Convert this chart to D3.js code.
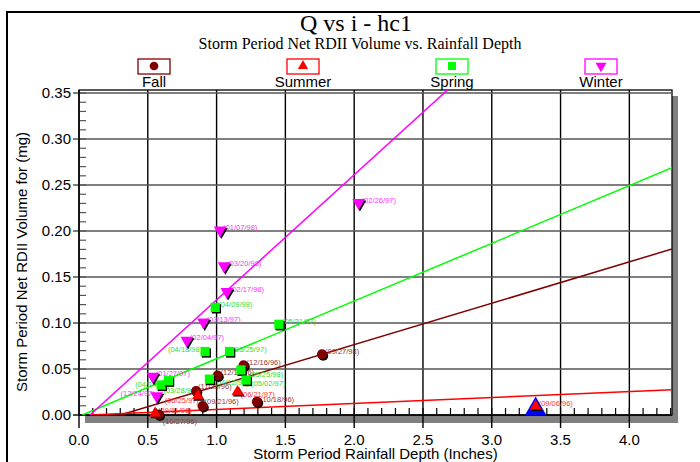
<!DOCTYPE html>
<html>
<head>
<meta charset="utf-8">
<script src="https://cdn.jsdelivr.net/npm/d3@7"></script>
<style>
body { margin: 0; background: #fff; }
</style>
</head>
<body>
<div id="chart"></div>
<script>
// seasons and their points (inches of rain, mg of RDII)
var seasons = ["Fall", "Summer", "Spring", "Winter"];

var fallX = [1.766, 1.196, 1.007, 0.851, 0.898, 1.293, 0.58];
var fallY = [0.066, 0.054, 0.043, 0.026, 0.0098, 0.0145, 0.0005];
var fallDates = ["(09/27/98)", "(12/16/96)", "(12/11/96)", "(11/25/96)", "(09/21/96)", "(10/18/96)", "(10/27/96)"];

var summerX = [3.319, 1.152, 0.864, 0.553];
var summerY = [0.0098, 0.0253, 0.0207, 0.0018];
var summerDates = ["(09/06/96)", "(06/21/97)", "(06/25/97)", "(09/11/96)"];

var springX = [0.990, 1.453, 0.917, 1.094, 1.177, 0.948, 1.215, 0.597, 0.650];
var springY = [0.117, 0.0986, 0.069, 0.069, 0.049, 0.039, 0.038, 0.0326, 0.0373];
var springDates = ["(04/09/98)", "(05/31/97)", "(04/18/98)", "(05/25/97)", "(05/25/98)", "(04/12/97)", "(05/02/97)", "(04/14/97)", "(03/28/98)"];

var winterX = [2.033, 1.026, 1.055, 1.075, 0.905, 0.784, 0.536, 0.565];
var winterY = [0.2308, 0.201, 0.162, 0.134, 0.101, 0.081, 0.042, 0.0207];
var winterDates = ["(02/26/97)", "(01/07/98)", "(03/20/98)", "(02/17/98)", "(03/13/97)", "(02/04/97)", "(01/27/97)", "(12/24/97)"];

// fitted lines: y = slope * x + intercept
var fitSlope = [0.045, 0.0065, 0.0627, 0.136];
var fitIntercept = [-0.0135, -0.0005, -0.0015, -0.0109];

var xTicks = [0.0, 0.5, 1.0, 1.5, 2.0, 2.5, 3.0, 3.5, 4.0];
var yTicks = [0.00, 0.05, 0.10, 0.15, 0.20, 0.25, 0.30, 0.35];

var colors = ["#800000", "#ff0000", "#00ff00", "#ff00ff"];
var textColors = ["#9b3333", "#ff3333", "#33dd33", "#ff33ff"];
var symbols = [d3.symbolCircle, d3.symbolTriangle, d3.symbolSquare, d3.symbolTriangle];
var symSizes = [80, 60, 85, 70];
var rotations = [0, 0, 0, 180];

var series = [
    {x: fallX, y: fallY, d: fallDates},
    {x: summerX, y: summerY, d: summerDates},
    {x: springX, y: springY, d: springDates},
    {x: winterX, y: winterY, d: winterDates}
];

var W = 700, H = 462;
var svg = d3.select("#chart").append("svg").attr("width", W).attr("height", H);

var pLeft = 79, pRight = 672, pTop = 90, pBottom = 415;
var x = d3.scaleLinear().domain([0, 4.31]).range([pLeft, pRight]);
var y = d3.scaleLinear().domain([0, 0.3533]).range([pBottom, pTop]);

// outer frame
svg.append("rect").attr("x", 7).attr("y", 12).attr("width", 720).attr("height", 480)
    .attr("fill", "none").attr("stroke", "#000").attr("stroke-width", 2);

// titles
svg.append("text").attr("x", 356).attr("y", 31).attr("text-anchor", "middle")
    .style("font", "24px 'Liberation Serif', 'Times New Roman', serif").text("Q vs i - hc1");
svg.append("text").attr("x", 360).attr("y", 49).attr("text-anchor", "middle")
    .style("font", "16px 'Liberation Serif', 'Times New Roman', serif")
    .text("Storm Period Net RDII Volume vs. Rainfall Depth");

// legend
var legendX = [154, 303, 452, 601];
var legend = svg.selectAll(".legend").data(seasons).enter().append("g")
    .attr("class", "legend")
    .attr("transform", function(d, i) { return "translate(" + legendX[i] + ",66)"; });
legend.append("rect").attr("x", -16).attr("y", -7).attr("width", 32).attr("height", 15)
    .attr("fill", "#fff").attr("stroke", function(d, i) { return colors[i]; }).attr("stroke-width", 1.3);
legend.append("path")
    .attr("d", function(d, i) { return d3.symbol().type(symbols[i]).size(symSizes[i] * 0.75)(); })
    .attr("transform", function(d, i) { return "rotate(" + rotations[i] + ")"; })
    .attr("fill", function(d, i) { return colors[i]; });
legend.append("text").attr("y", 21).attr("text-anchor", "middle")
    .style("font", "15px 'Liberation Sans', Arial, sans-serif").text(function(d) { return d; });

// shadow of plot area
svg.append("rect").attr("x", pLeft + 6).attr("y", pTop + 6).attr("width", pRight - pLeft).attr("height", pBottom - pTop + 2)
    .attr("fill", "#808080");
svg.append("rect").attr("x", pLeft).attr("y", pTop).attr("width", pRight - pLeft).attr("height", pBottom - pTop)
    .attr("fill", "#fff").attr("stroke", "#000").attr("stroke-width", 1.3);

var g = svg.append("g");

// grid
g.selectAll(".vgrid").data(xTicks.slice(1)).enter().append("line")
    .attr("x1", function(d) { return x(d); }).attr("x2", function(d) { return x(d); })
    .attr("y1", pTop).attr("y2", pBottom + 13)
    .attr("stroke", "#000").attr("stroke-width", 1.4);
g.selectAll(".hgrid").data(yTicks.slice(1)).enter().append("line")
    .attr("x1", pLeft - 6).attr("x2", pRight)
    .attr("y1", function(d) { return y(d); }).attr("y2", function(d) { return y(d); })
    .attr("stroke", "#555").attr("stroke-width", 1.5);

// minor ticks, inside the plot
var minorX = d3.range(1, 44).map(function(i) { return i / 10; });
var minorY = d3.range(1, 36).map(function(i) { return i / 100; });
g.selectAll(".mx").data(minorX).enter().append("line")
    .attr("x1", function(d) { return x(d); }).attr("x2", function(d) { return x(d); })
    .attr("y1", pBottom).attr("y2", pBottom - 7).attr("stroke", "#000").attr("stroke-width", 1.2);
g.selectAll(".my").data(minorY).enter().append("line")
    .attr("x1", pLeft).attr("x2", pLeft + 7)
    .attr("y1", function(d) { return y(d); }).attr("y2", function(d) { return y(d); })
    .attr("stroke", "#555").attr("stroke-width", 1.2);

// axes lines
g.append("line").attr("x1", pLeft).attr("x2", pRight).attr("y1", pBottom).attr("y2", pBottom)
    .attr("stroke", "#000").attr("stroke-width", 1.5);
g.append("line").attr("x1", pLeft).attr("x2", pLeft).attr("y1", pTop).attr("y2", pBottom)
    .attr("stroke", "#000").attr("stroke-width", 1.5);
g.append("line").attr("x1", pLeft).attr("x2", pLeft).attr("y1", pBottom).attr("y2", pBottom + 13)
    .attr("stroke", "#000").attr("stroke-width", 1.4);
g.append("line").attr("x1", pLeft - 6).attr("x2", pLeft).attr("y1", pBottom).attr("y2", pBottom)
    .attr("stroke", "#000").attr("stroke-width", 1.4);

// tick labels
g.selectAll(".xl").data(xTicks).enter().append("text")
    .attr("x", function(d) { return x(d); }).attr("y", 445).attr("text-anchor", "middle")
    .style("font", "15px 'Liberation Sans', Arial, sans-serif").text(d3.format(".1f"));
g.selectAll(".yl").data(yTicks).enter().append("text")
    .attr("x", 71).attr("y", function(d) { return y(d) + 5; }).attr("text-anchor", "end")
    .style("font", "15px 'Liberation Sans', Arial, sans-serif").text(d3.format(".2f"));

// axis titles
svg.append("text").attr("x", (pLeft + pRight) / 2).attr("y", 459).attr("text-anchor", "middle")
    .style("font", "15px 'Liberation Sans', Arial, sans-serif").text("Storm Period Rainfall Depth (Inches)");
svg.append("text").attr("transform", "translate(27,262) rotate(-90)").attr("text-anchor", "middle")
    .style("font", "15px 'Liberation Sans', Arial, sans-serif").text("Storm Period Net RDII Volume for (mg)");

// fit lines
svg.append("clipPath").attr("id", "plotclip").append("rect")
    .attr("x", pLeft).attr("y", pTop).attr("width", pRight - pLeft).attr("height", pBottom - pTop);
var lines = svg.append("g").attr("clip-path", "url(#plotclip)");
seasons.forEach(function(s, i) {
    var x0 = Math.max(0, -fitIntercept[i] / fitSlope[i]);
    lines.append("line")
        .attr("x1", x(x0)).attr("y1", y(fitSlope[i] * x0 + fitIntercept[i]))
        .attr("x2", x(4.31)).attr("y2", y(fitSlope[i] * 4.31 + fitIntercept[i]))
        .attr("stroke", colors[i]).attr("stroke-width", 1.5);
});

// label nudges [dx, dy, anchor]
var nudge = {
    "(04/18/98)": [-3, 0, "end"], "(04/14/97)": [-26, 2, "start"], "(12/24/97)": [-2, 0, "end"],
    "(06/25/97)": [1, 7, "end"], "(03/28/98)": [-5, 12, "start"], "(06/21/97)": [3, 5, "start"],
    "(04/12/97)": [5, 6, "start"], "(05/02/97)": [5, 6, "start"], "(05/25/98)": [8, 7, "start"],
    "(10/27/96)": [4, 9, "start"], "(11/25/96)": [2, -2, "start"], "(09/21/96)": [2, -2, "start"]
};
var picked = "(09/06/96)";

var labels = svg.append("g"), marks = svg.append("g");
series.forEach(function(s, i) {
    var pts = s.x.map(function(v, j) { return {x: v, y: s.y[j], d: s.d[j]}; });
    labels.selectAll(".lab" + i).data(pts).enter().append("text")
        .attr("x", function(p) { return x(p.x) + (nudge[p.d] ? nudge[p.d][0] : 3); })
        .attr("y", function(p) { return y(p.y) + (nudge[p.d] ? nudge[p.d][1] : 0); })
        .attr("text-anchor", function(p) { return nudge[p.d] ? nudge[p.d][2] : "start"; })
        .attr("fill", textColors[i])
        .style("font", "7.5px 'Liberation Sans', Arial, sans-serif")
        .text(function(p) { return p.d; });

    var sym = d3.symbol().type(symbols[i]).size(symSizes[i]);
    pts.forEach(function(p) {
        var px = x(p.x), py = y(p.y);
        if (p.d === picked) {
            marks.append("path").attr("d", d3.symbol().type(d3.symbolTriangle).size(200)())
                .attr("transform", "translate(" + px + "," + (py + 3) + ")").attr("fill", "#0000ff");
        }
        marks.append("path").attr("d", sym())
            .attr("transform", "translate(" + (px + 1.2) + "," + (py + 1.5) + ") rotate(" + rotations[i] + ")")
            .attr("fill", "#000");
        marks.append("path").attr("d", sym())
            .attr("transform", "translate(" + px + "," + py + ") rotate(" + rotations[i] + ")")
            .attr("fill", colors[i]);
    });
});
</script>
</body>
</html>
